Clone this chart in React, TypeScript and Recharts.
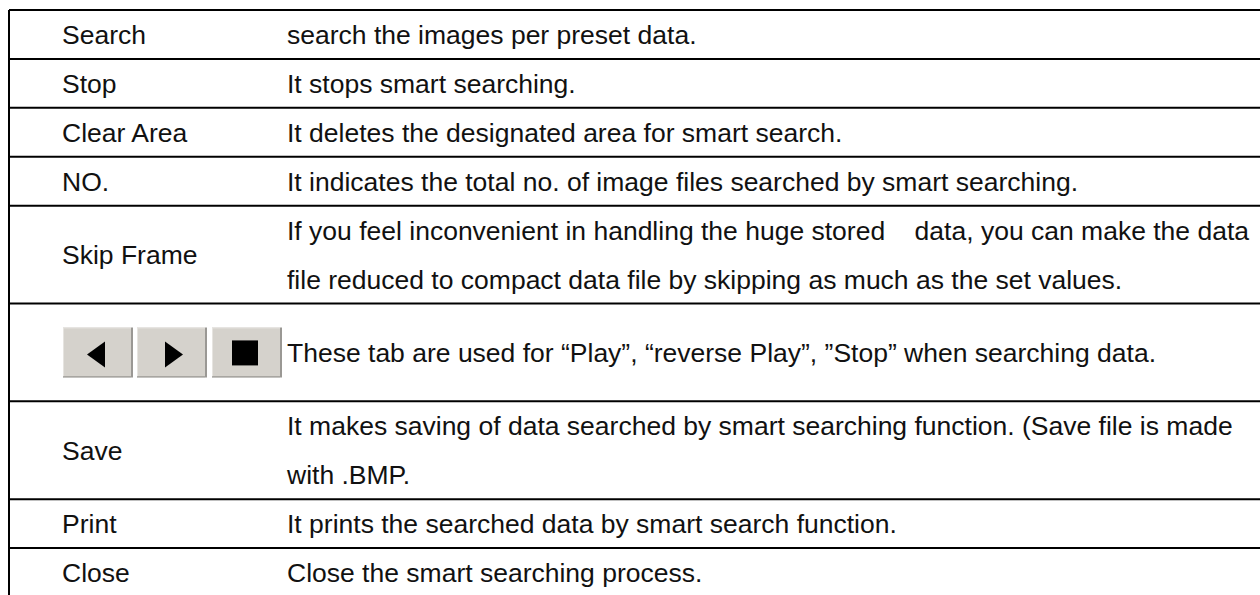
import React from 'react';
import { ComposedChart, XAxis, YAxis, ReferenceLine, Scatter } from 'recharts';

// ---- data ----
const rowLabels: string[] = ['Search', 'Stop', 'Clear Area', 'NO.', 'Skip Frame', '', 'Save', 'Print', 'Close'];
const rowSpans: number[] = [1, 1, 1, 1, 2, 2, 2, 1, 1];
const rowDescriptions: string[][] = [
  ['search the images per preset data.'],
  ['It stops smart searching.'],
  ['It deletes the designated area for smart search.'],
  ['It indicates the total no. of image files searched by smart searching.'],
  [
    'If you feel inconvenient in handling the huge stored    data, you can make the data',
    'file reduced to compact data file by skipping as much as the set values.',
  ],
  ['These tab are used for \u201cPlay\u201d, \u201creverse Play\u201d, \u201dStop\u201d when searching data.'],
  [
    'It makes saving of data searched by smart searching function. (Save file is made',
    'with .BMP.',
  ],
  ['It prints the searched data by smart search function.'],
  ['Close the smart searching process.'],
];
const buttonIcons: string[] = ['prev', 'next', 'stop'];
const buttonRowIndex = 5;

// ---- derived ----
type Row = { start: number; span: number; mid: number; label: string; lines: string[] };
const rows: Row[] = [];
{
  let acc = 0;
  rowLabels.forEach((label, i) => {
    rows.push({ start: acc, span: rowSpans[i], mid: acc + rowSpans[i] / 2, label, lines: rowDescriptions[i] });
    acc += rowSpans[i];
  });
}
const totalUnits = rows.reduce((s, r) => s + r.span, 0);
const boundaries = rows.map((r) => r.start);

const labelPoints = rows.filter((r) => r.label).map((r) => ({ x: 0, y: r.mid, text: r.label }));
const descPoints: { x: number; y: number; text: string }[] = [];
rows.forEach((r) => {
  const n = r.lines.length;
  r.lines.forEach((t, i) => {
    descPoints.push({ x: 0, y: r.start + (r.span - n) / 2 + 0.5 + i, text: t });
  });
});
const buttonPoints = [{ x: 0, y: rows[buttonRowIndex].mid }];

// ---- styles ----
const FONT = '"Liberation Sans", Arial, Helvetica, sans-serif';
const FS = 26.5;
const TEXT_COLOR = '#111111';
const LABEL_OFFSET = 53;
const DESC_OFFSET = 278;
const BASE_DY = 9.5;

const LabelShape = (props: any) => {
  const { cx, cy, payload } = props;
  return (
    <text x={cx + LABEL_OFFSET} y={cy + BASE_DY} fontFamily={FONT} fontSize={FS} fill={TEXT_COLOR} style={{ whiteSpace: 'pre' }}>
      {payload.text}
    </text>
  );
};

const DescShape = (props: any) => {
  const { cx, cy, payload } = props;
  return (
    <text x={cx + DESC_OFFSET} y={cy + BASE_DY} fontFamily={FONT} fontSize={FS} fill={TEXT_COLOR} style={{ whiteSpace: 'pre' }} xmlSpace="preserve">
      {payload.text}
    </text>
  );
};

const ButtonsShape = (props: any) => {
  const { cx, cy } = props;
  const bw = 68;
  const bh = 50;
  const gap = 6;
  const x0 = cx + 54;
  const top = cy - 25;
  return (
    <g>
      {buttonIcons.map((icon, i) => {
        const bx = x0 + i * (bw + gap) + (i === 2 ? 1 : 0);
        return (
          <g key={icon}>
            <rect x={bx} y={top} width={bw} height={bh} fill="#d5d2cc" />
            <line x1={bx} y1={top + 0.5} x2={bx + bw} y2={top + 0.5} stroke="#e6e4e0" strokeWidth={1} />
            <line x1={bx + 0.5} y1={top} x2={bx + 0.5} y2={top + bh} stroke="#e6e4e0" strokeWidth={1} />
            <line x1={bx} y1={top + bh - 0.5} x2={bx + bw} y2={top + bh - 0.5} stroke="#8a8884" strokeWidth={1} />
            <line x1={bx + bw + 1} y1={top} x2={bx + bw + 1} y2={top + bh} stroke="#9a9894" strokeWidth={2} />
            {icon === 'prev' && (
              <polygon points={`${bx + 24},${cy + 2} ${bx + 42},${cy - 11} ${bx + 42},${cy + 15}`} fill="#000" />
            )}
            {icon === 'next' && (
              <polygon points={`${bx + 46},${cy + 2} ${bx + 28},${cy - 11} ${bx + 28},${cy + 15}`} fill="#000" />
            )}
            {icon === 'stop' && <rect x={bx + 20} y={cy - 12} width={26} height={25} fill="#000" />}
          </g>
        );
      })}
    </g>
  );
};

export default function App() {
  return (
    <div style={{ position: 'absolute', left: 0, top: 0, width: 1260, height: 595, overflow: 'hidden', background: '#fff' }}>
      <ComposedChart width={1260} height={600} margin={{ top: 10, right: 0, bottom: 3, left: 9 }}>
        <XAxis type="number" dataKey="x" domain={[0, 100]} hide allowDataOverflow />
        <YAxis type="number" dataKey="y" domain={[0, totalUnits]} reversed hide allowDataOverflow />
        {boundaries.map((b) => (
          <ReferenceLine key={`h${b}`} y={b} stroke="#000" strokeWidth={2} ifOverflow="visible" />
        ))}
        <ReferenceLine x={0} stroke="#000" strokeWidth={2} ifOverflow="visible" />
        <Scatter data={labelPoints} shape={LabelShape} isAnimationActive={false} />
        <Scatter data={descPoints} shape={DescShape} isAnimationActive={false} />
        <Scatter data={buttonPoints} shape={ButtonsShape} isAnimationActive={false} />
      </ComposedChart>
    </div>
  );
}
